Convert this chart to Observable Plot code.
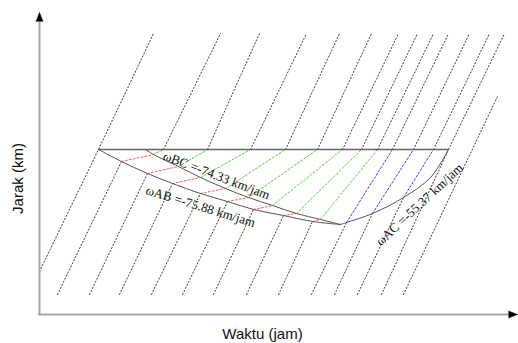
<!DOCTYPE html>
<html>
<head>
<meta charset="utf-8">
<script src="https://cdn.jsdelivr.net/npm/d3@7"></script>
<script src="https://cdn.jsdelivr.net/npm/@observablehq/plot@0.6"></script>
<style>
  html, body { margin: 0; padding: 0; background: #fff; }
  #chart { width: 518px; height: 343px; }
</style>
</head>
<body>
<div id="chart"></div>
<script>
// time (t) and distance (d) in arbitrary chart units
const topLine = [[5.9, 16.5], [40.9, 16.5]];
const curveAB = [[5.9,16.5],[8.2,15.3],[10.8,14.1],[13.3,13.1],[16.1,12.1],[18.8,11.3],[21.4,10.5],[24.4,9.9],[27.3,9.3],[30.1,9.0]];
const curveBC = [[10.6,16.5],[11.4,16.0],[13.9,14.8],[16.1,13.7],[18.6,12.6],[20.9,11.7],[23.3,10.9],[25.7,10.1],[28.1,9.5],[30.1,9.0]];
const curveAC = [[30.1,9.0],[30.7,9.2],[33.3,10.1],[36.4,11.7],[39.1,13.7],[40.9,16.5]];

// vehicle trajectories crossing the shockwave region
const trajStart = [[1.8,2.0],[5.0,2.0],[8.0,2.0],[11.2,2.0],[14.3,2.0],[17.4,2.0],[20.7,2.0],[23.9,2.0],[27.2,2.0],[29.5,2.0],[31.8,2.0]];
const trajEntry = [[8.2,15.3],[10.8,14.1],[13.3,13.1],[16.1,12.1],[18.8,11.3],[21.4,10.5],[24.4,9.9],[27.3,9.3],[30.7,9.2],[33.3,10.1],[36.4,11.7]];
const trajMid   = [[11.4,16.0],[13.9,14.8],[16.1,13.7],[18.6,12.6],[20.9,11.7],[23.3,10.9],[25.7,10.1],[28.1,9.5],null,null,null];
const trajExit  = [[12.4,16.5],[16.8,16.5],[21.1,16.5],[24.6,16.5],[27.8,16.5],[30.3,16.5],[32.2,16.5],[33.8,16.5],[35.3,16.5],[37.4,16.5],[39.4,16.5]];
const trajEnd   = [[18.1,28.1],[22.0,28.1],[26.7,28.1],[30.0,28.1],[33.2,28.1],[35.9,28.1],[37.8,28.1],[39.4,28.1],[40.9,28.1],[43.0,28.1],[45.0,28.1]];

// trajectories that pass outside the region
const straightTraj = [
  [[0.0,4.3],[5.9,16.5],[11.4,28.1]],
  [[34.2,2.0],[40.9,16.5],[46.5,28.1]],
  [[36.4,2.0],[45.8,21.8]]
];

const labels = [
  {t: 17.7, d: 13.9, text: "\u03c9BC =-74.33 km/jam", rotate: 21},
  {t: 16.1, d: 10.8, text: "\u03c9AB =-75.88 km/jam", rotate: 17},
  {t: 38.0, d: 11.0, text: "\u03c9AC =-55.37 km/jam", rotate: -43}
];
const xTitle = "Waktu (jam)";
const yTitle = "Jarak (km)";

// build segment table
const segs = [];
let id = 0;
function addSeg(points, kind) {
  id++;
  points.forEach(p => segs.push({t: p[0], d: p[1], id, kind}));
}
trajStart.forEach((s, i) => {
  addSeg([s, trajEntry[i]], "black");
  if (trajMid[i]) {
    addSeg([trajEntry[i], trajMid[i]], "red");
    addSeg([trajMid[i], trajExit[i]], "green");
  } else {
    addSeg([trajEntry[i], trajExit[i]], "blue");
  }
  addSeg([trajExit[i], trajEnd[i]], "black");
});
straightTraj.forEach(p => addSeg(p, "black"));

const colors = {black: "#3a3a3a", red: "#ff5c5c", green: "#4fd636", blue: "#3c3cff"};
const dash = {black: "1.2,2.2", red: "2,2", green: "2,2", blue: "2,2"};
const kinds = ["black", "red", "green", "blue"];

const toObj = a => a.map(p => ({t: p[0], d: p[1]}));

const chart = Plot.plot({
  width: 518,
  height: 343,
  margin: 0,
  x: {domain: [-3.9, 47.9], axis: null},
  y: {domain: [-2.9, 31.4], axis: null},
  marks: [
    ...kinds.map(k => Plot.line(segs.filter(s => s.kind === k), {
      x: "t", y: "d", z: "id", stroke: colors[k], strokeWidth: 1, strokeDasharray: dash[k]
    })),
    Plot.line(toObj(topLine), {x: "t", y: "d", stroke: "#666", strokeWidth: 1.3}),
    Plot.line(toObj(curveAB), {x: "t", y: "d", stroke: "#555", strokeWidth: 1, curve: "catmull-rom"}),
    Plot.line(toObj(curveBC), {x: "t", y: "d", stroke: "#555", strokeWidth: 1, curve: "catmull-rom"}),
    Plot.line(toObj(curveAC), {x: "t", y: "d", stroke: "#555", strokeWidth: 1, curve: "catmull-rom"}),
    // axes
    Plot.ruleX([0], {y1: 0, y2: 29.6, stroke: "#a8a8a8", strokeWidth: 2}),
    Plot.ruleY([0], {x1: -0.1, x2: 47.2, stroke: "#a8a8a8", strokeWidth: 2}),
    Plot.vector([{t: 0, d: 30.2}], {x: "t", y: "d", length: 9, rotate: 0, r: 3.5, shape: "spike", anchor: "end", fill: "black", stroke: "black", strokeWidth: 0.5}),
    Plot.vector([{t: 47.8, d: 0}], {x: "t", y: "d", length: 9, rotate: 90, r: 3.5, shape: "spike", anchor: "end", fill: "black", stroke: "black", strokeWidth: 0.5}),
    // axis titles
    Plot.text([xTitle], {x: 22.3, y: -2.0, text: d => d, fontSize: 15, fontFamily: "Liberation Sans, Arial, sans-serif", fill: "#111"}),
    Plot.text([yTitle], {x: -2.1, y: 13.6, text: d => d, rotate: -90, fontSize: 15, fontFamily: "Liberation Sans, Arial, sans-serif", fill: "#111"}),
    // annotations
    Plot.text(labels, {x: "t", y: "d", text: "text", rotate: "rotate", fontSize: 13, fontFamily: "Liberation Serif, Times New Roman, serif", fill: "#111"})
  ]
});
document.getElementById("chart").appendChild(chart);
</script>
</body>
</html>
